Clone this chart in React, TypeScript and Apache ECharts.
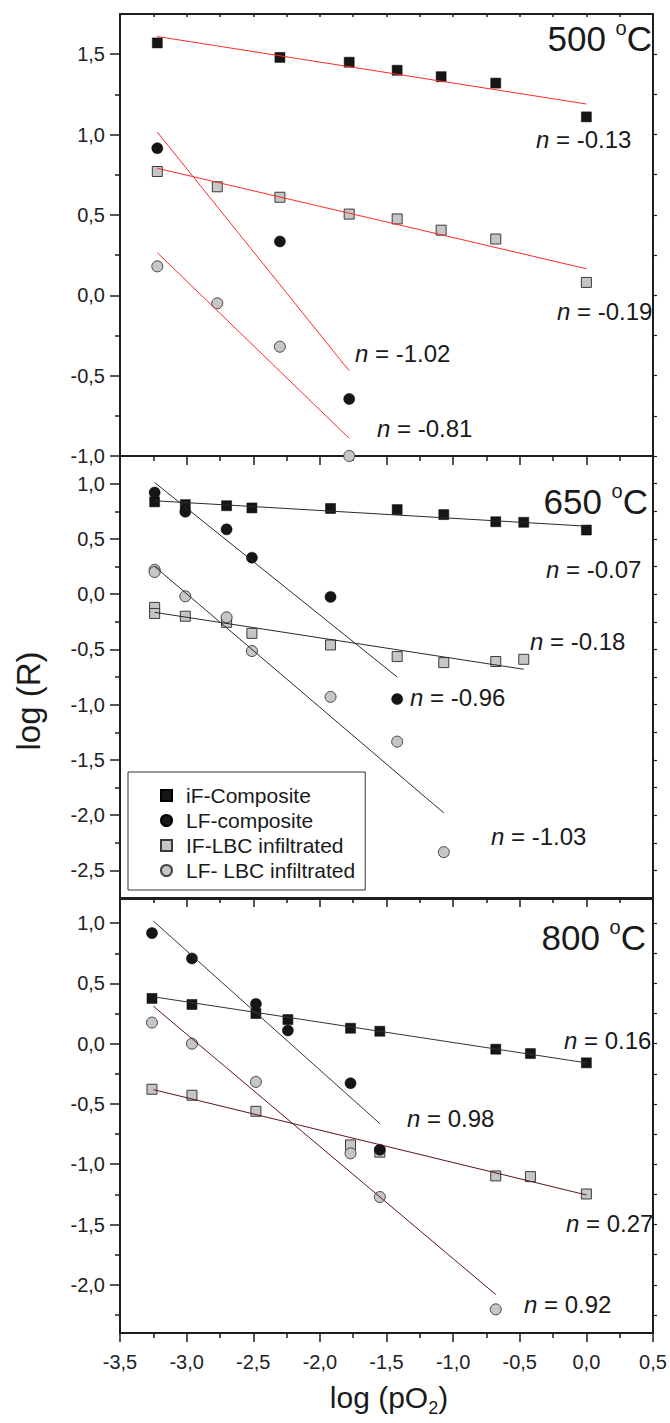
import React, { useEffect, useRef } from 'react';
import * as echarts from 'echarts';

const FONT = '"Liberation Sans", Arial, Helvetica, sans-serif';
const AX = '#1e1e1e';

// ---- categories / legend ----
const seriesNames = ['iF-Composite', 'LF-composite', 'IF-LBC infiltrated', 'LF- LBC infiltrated'];
const temperatures = ['500', '650', '800'];

// ---- x axis (log pO2) ----
const xMin = -3.5;
const xMax = 0.5;
const xStep = 0.5;

// ---- y axis ranges and tick values per panel ----
const yRange500 = [-1.0, 1.75];
const yMajor500 = [-1.0, -0.5, 0.0, 0.5, 1.0, 1.5];
const yMinor500 = [-0.75, -0.25, 0.25, 0.75, 1.25];

const yRange650 = [-2.75, 1.25];
const yMajor650 = [-2.5, -2.0, -1.5, -1.0, -0.5, 0.0, 0.5, 1.0];
const yMinor650 = [-2.25, -1.75, -1.25, -0.75, -0.25, 0.25, 0.75];

const yRange800 = [-2.4, 1.2];
const yMajor800 = [-2.0, -1.5, -1.0, -0.5, 0.0, 0.5, 1.0];
const yMinor800 = [-2.25, -1.75, -1.25, -0.75, -0.25, 0.25, 0.75];

// ---- 500 °C data ----
const iF500 = [[-3.22, 1.57], [-2.30, 1.48], [-1.78, 1.45], [-1.42, 1.40], [-1.09, 1.36], [-0.68, 1.32], [0.0, 1.11]];
const LFc500 = [[-3.22, 0.915], [-2.30, 0.335], [-1.78, -0.645]];
const IFLBC500 = [[-3.22, 0.77], [-2.77, 0.675], [-2.30, 0.61], [-1.78, 0.505], [-1.42, 0.475], [-1.09, 0.405], [-0.68, 0.35], [0.0, 0.08]];
const LFLBC500 = [[-3.22, 0.18], [-2.77, -0.05], [-2.30, -0.32], [-1.78, -1.0]];
const fitiF500 = [[-3.22, 1.61], [0.0, 1.19]];
const fitLFc500 = [[-3.22, 1.015], [-1.78, -0.47]];
const fitIFLBC500 = [[-3.22, 0.79], [0.0, 0.165]];
const fitLFLBC500 = [[-3.22, 0.265], [-1.78, -0.89]];
const n500 = ['-0.13', '-1.02', '-0.19', '-0.81'];

// ---- 650 °C data ----
const iF650 = [[-3.24, 0.835], [-3.01, 0.81], [-2.70, 0.80], [-2.51, 0.78], [-1.92, 0.775], [-1.42, 0.765], [-1.07, 0.72], [-0.68, 0.655], [-0.47, 0.65], [0.0, 0.58]];
const LFc650 = [[-3.24, 0.92], [-3.01, 0.745], [-2.70, 0.586], [-2.51, 0.33], [-1.92, -0.025], [-1.42, -0.95]];
const IFLBC650 = [[-3.24, -0.12], [-3.24, -0.175], [-3.01, -0.2], [-2.70, -0.255], [-2.51, -0.355], [-1.92, -0.46], [-1.42, -0.565], [-1.07, -0.62], [-0.68, -0.61], [-0.47, -0.59]];
const LFLBC650 = [[-3.24, 0.22], [-3.24, 0.20], [-3.01, -0.02], [-2.70, -0.21], [-2.51, -0.515], [-1.92, -0.93], [-1.42, -1.335], [-1.07, -2.335]];
const fitiF650 = [[-3.24, 0.845], [0.0, 0.615]];
const fitLFc650 = [[-3.24, 1.01], [-1.42, -0.75]];
const fitIFLBC650 = [[-3.24, -0.165], [-0.47, -0.68]];
const fitLFLBC650 = [[-3.24, 0.25], [-1.07, -1.98]];
const n650 = ['-0.07', '-0.96', '-0.18', '-1.03'];

// ---- 800 °C data ----
const iF800 = [[-3.26, 0.375], [-2.96, 0.325], [-2.48, 0.25], [-2.24, 0.20], [-1.77, 0.128], [-1.55, 0.103], [-0.68, -0.046], [-0.42, -0.082], [0.0, -0.159]];
const LFc800 = [[-3.26, 0.917], [-2.96, 0.707], [-2.48, 0.33], [-2.24, 0.11], [-1.77, -0.328], [-1.55, -0.88]];
const IFLBC800 = [[-3.26, -0.378], [-2.96, -0.428], [-2.48, -0.561], [-1.77, -0.84], [-1.55, -0.9], [-0.68, -1.097], [-0.42, -1.103], [0.0, -1.247]];
const LFLBC800 = [[-3.26, 0.175], [-2.96, 0.0], [-2.48, -0.317], [-1.77, -0.91], [-1.55, -1.272], [-0.68, -2.204]];
const fitiF800 = [[-3.25, 0.389], [0.0, -0.159]];
const fitLFc800 = [[-3.25, 1.017], [-1.55, -0.663]];
const fitIFLBC800 = [[-3.25, -0.381], [0.0, -1.255]];
const fitLFLBC800 = [[-3.25, 0.311], [-0.68, -2.081]];
const n800 = ['0.16', '0.98', '0.27', '0.92'];

// ---- layout (pixels) ----
const gridRects = [
  { left: 120, top: 14, width: 533, height: 442 },
  { left: 120, top: 456, width: 533, height: 442 },
  { left: 120, top: 899, width: 533, height: 434 },
];
const tempPos = [[652, 38], [648, 501], [646, 937]];
const nPos = [
  [[536, 148], [355, 362], [557, 320], [377, 437]],
  [[546, 578], [410, 706], [530, 650], [491, 845]],
  [[564, 1049], [407, 1127], [566, 1232], [524, 1313]],
];

const symbolStyles = [
  { symbol: 'rect', symbolSize: 10, itemStyle: { color: '#161616', borderColor: '#000', borderWidth: 0.5, opacity: 1 } },
  { symbol: 'circle', symbolSize: 11, itemStyle: { color: '#161616', borderColor: '#000', borderWidth: 0.5, opacity: 1 } },
  { symbol: 'rect', symbolSize: 10, itemStyle: { color: '#c6c6c6', borderColor: '#3a3a3a', borderWidth: 1, opacity: 1 } },
  { symbol: 'circle', symbolSize: 11, itemStyle: { color: '#c6c6c6', borderColor: '#444', borderWidth: 1, opacity: 1 } },
];
// draw squares first, circles on top (as in the reference)
const drawOrder = [2, 0, 3, 1];

const panels = [
  { range: yRange500, major: yMajor500, minor: yMinor500, data: [iF500, LFc500, IFLBC500, LFLBC500], fits: [fitiF500, fitLFc500, fitIFLBC500, fitLFLBC500], fitColors: ['#ff2a2a', '#ff2a2a', '#ff2a2a', '#ff2a2a'], n: n500 },
  { range: yRange650, major: yMajor650, minor: yMinor650, data: [iF650, LFc650, IFLBC650, LFLBC650], fits: [fitiF650, fitLFc650, fitIFLBC650, fitLFLBC650], fitColors: ['#2a2a2a', '#2a2a2a', '#2a2a2a', '#2a2a2a'], n: n650 },
  { range: yRange800, major: yMajor800, minor: yMinor800, data: [iF800, LFc800, IFLBC800, LFLBC800], fits: [fitiF800, fitLFc800, fitIFLBC800, fitLFLBC800], fitColors: ['#333333', '#333333', '#5a1616', '#5a1616'], n: n800 },
];

const fmt = (v: number) => v.toFixed(1).replace('.', ',');

function buildOption() {
  const grid: any[] = [];
  const xAxis: any[] = [];
  const yAxis: any[] = [];
  const series: any[] = [];
  const graphic: any[] = [];

  panels.forEach((p, i) => {
    grid.push({ ...gridRects[i], containLabel: false, outerBoundsMode: 'none' });
  });
  panels.forEach((p, i) => {
    grid.push({ ...gridRects[i], containLabel: false, outerBoundsMode: 'none' });
  });

  panels.forEach((p, i) => {
    xAxis.push({
      type: 'value', gridIndex: i, position: 'bottom', min: xMin, max: xMax, interval: xStep,
      axisLine: { show: true, onZero: false, lineStyle: { color: AX, width: 2 } },
      axisTick: { show: true, inside: false, length: 9, lineStyle: { color: AX, width: 1.5 } },
      minorTick: { show: true, splitNumber: 2, length: 5, lineStyle: { color: AX, width: 1.5 } },
      axisLabel: { show: i === 2, formatter: fmt, fontSize: 20, fontFamily: FONT, color: '#222', margin: 19 },
      splitLine: { show: false }, minorSplitLine: { show: false },
    });
    xAxis.push({
      type: 'value', gridIndex: i, position: 'top', min: xMin, max: xMax, interval: xStep,
      axisLine: { show: true, onZero: false, lineStyle: { color: AX, width: 2 } },
      axisTick: { show: i === 0, inside: true, length: 3, lineStyle: { color: AX, width: 1.5 } },
      minorTick: { show: i === 0, splitNumber: 2, length: 3, lineStyle: { color: AX, width: 1.5 } },
      axisLabel: { show: false },
      splitLine: { show: false }, minorSplitLine: { show: false },
    });
    const all = [...p.major, ...p.minor].sort((a, b) => a - b);
    yAxis.push({
      type: 'value', gridIndex: i, position: 'left', min: p.range[0], max: p.range[1],
      axisLine: { show: true, onZero: false, lineStyle: { color: AX, width: 2 } },
      axisTick: { show: true, inside: false, length: 10, customValues: p.major, lineStyle: { color: AX, width: 1.5 } },
      axisLabel: { show: true, customValues: p.major, formatter: fmt, fontSize: 20, fontFamily: FONT, color: '#222', margin: 15 },
      splitLine: { show: false },
    });
    yAxis.push({
      type: 'value', gridIndex: i, position: 'right', min: p.range[0], max: p.range[1],
      axisLine: { show: true, onZero: false, lineStyle: { color: AX, width: 2 } },
      axisTick: { show: true, inside: false, length: 4, customValues: all, lineStyle: { color: AX, width: 1.2 } },
      axisLabel: { show: false },
      splitLine: { show: false },
    });
  });
  panels.forEach((p, i) => {
    xAxis.push({ type: 'value', gridIndex: 3 + i, min: xMin, max: xMax, show: false });
    yAxis.push({
      type: 'value', gridIndex: 3 + i, position: 'left', min: p.range[0], max: p.range[1],
      axisLine: { show: false, onZero: false },
      axisTick: { show: true, inside: false, length: 5, customValues: p.minor, lineStyle: { color: AX, width: 1.5 } },
      axisLabel: { show: false },
      splitLine: { show: false },
    });
  });

  panels.forEach((p, i) => {
    drawOrder.forEach((k) => {
      series.push({
        type: 'scatter', name: seriesNames[k], xAxisIndex: 2 * i, yAxisIndex: 2 * i,
        data: p.data[k], ...symbolStyles[k], z: 3,
      });
    });
    p.fits.forEach((f, k) => {
      series.push({
        type: 'line', name: 'fit ' + seriesNames[k] + ' ' + temperatures[i], xAxisIndex: 2 * i, yAxisIndex: 2 * i,
        data: f, symbol: 'none', silent: true, z: 4,
        lineStyle: { color: p.fitColors[k], width: 1 },
      });
    });

    graphic.push({
      type: 'text', x: tempPos[i][0], y: tempPos[i][1], z: 10,
      style: {
        text: temperatures[i] + ' {s|o}C', fontSize: 35, fontFamily: FONT, fill: '#1a1a1a', lineHeight: 40,
        align: 'right', verticalAlign: 'middle', textAlign: 'right', textVerticalAlign: 'middle',
        rich: { s: { fontSize: 20, lineHeight: 20, verticalAlign: 'top', fontFamily: FONT, fill: '#1a1a1a' } },
      },
    });
    p.n.forEach((txt, k) => {
      graphic.push({
        type: 'text', x: nPos[i][k][0], y: nPos[i][k][1] - 8.5, z: 10,
        style: {
          text: '{it|n} = ' + txt, fontSize: 24, fontFamily: FONT, fill: '#1a1a1a',
          align: 'left', verticalAlign: 'middle', textAlign: 'left', textVerticalAlign: 'middle',
          rich: { it: { fontStyle: 'italic', fontSize: 24, fontFamily: FONT, fill: '#1a1a1a' } },
        },
      });
    });
  });

  graphic.push({
    type: 'text', x: 28, y: 701, rotation: Math.PI / 2, z: 10,
    style: {
      text: 'log (R)', fontSize: 33, fontFamily: FONT, fill: '#1a1a1a',
      align: 'center', verticalAlign: 'middle', textAlign: 'center', textVerticalAlign: 'middle',
    },
  });
  graphic.push({
    type: 'text', x: 389, y: 1397, z: 10,
    style: {
      text: 'log (pO{b|2})', fontSize: 30, fontFamily: FONT, fill: '#1a1a1a', lineHeight: 40,
      align: 'center', verticalAlign: 'middle', textAlign: 'center', textVerticalAlign: 'middle',
      rich: { b: { fontSize: 18, lineHeight: 18, verticalAlign: 'bottom', fontFamily: FONT, fill: '#1a1a1a' } },
    },
  });

  return {
    animation: false,
    backgroundColor: '#ffffff',
    textStyle: { fontFamily: FONT },
    grid, xAxis, yAxis, series, graphic,
    legend: {
      data: seriesNames, orient: 'vertical', left: 128, top: 772,
      itemWidth: 11, itemHeight: 11, itemGap: 4, selectedMode: false,
      padding: [13, 10, 9, 32], borderColor: '#333', borderWidth: 1, backgroundColor: '#fff',
      textStyle: { fontSize: 21, fontFamily: FONT, color: '#1a1a1a', lineHeight: 21, padding: [0, 0, 0, 9] },
    },
  };
}

export default function App() {
  const ref = useRef<HTMLDivElement>(null);
  useEffect(() => {
    if (!ref.current) return;
    const chart = echarts.init(ref.current, null, { renderer: 'svg' });
    chart.setOption(buildOption() as any);
    return () => chart.dispose();
  }, []);
  return (
    <div
      ref={ref}
      style={{ position: 'absolute', left: 0, top: 0, width: 670, height: 1423, background: '#fff' }}
    />
  );
}
